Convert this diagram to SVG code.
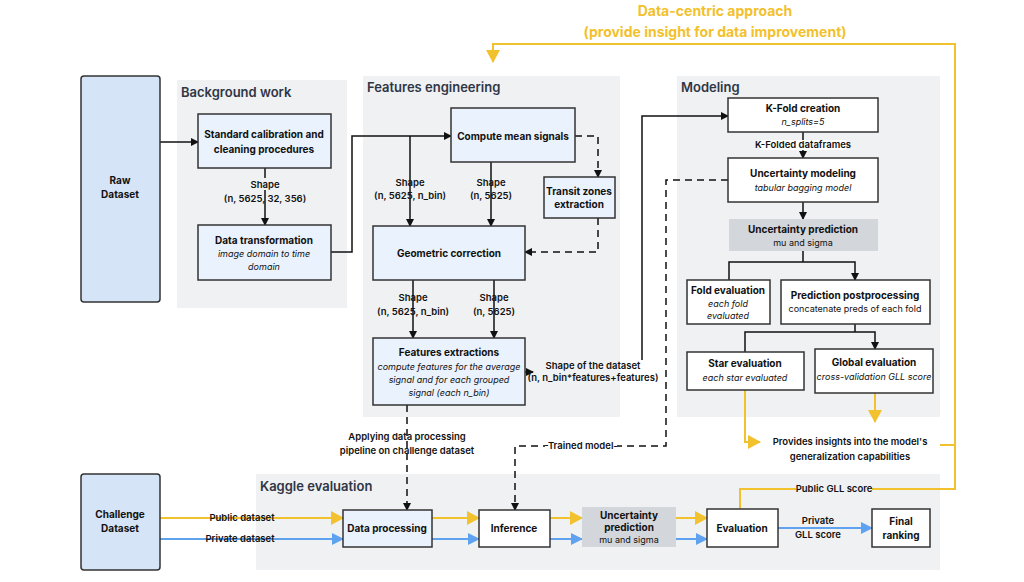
<svg xmlns="http://www.w3.org/2000/svg" width="1024" height="582" viewBox="0 0 1024 582">
<defs>
<marker id="ab" markerWidth="8" markerHeight="8" refX="7" refY="4" orient="auto" markerUnits="userSpaceOnUse"><path d="M0,0 L8,4 L0,8 z" fill="#111"/></marker>
<marker id="ay" markerWidth="14" markerHeight="14" refX="12" refY="7" orient="auto" markerUnits="userSpaceOnUse"><path d="M0,0 L13,7 L0,14 z" fill="#f2c12e"/></marker>
<marker id="al" markerWidth="12" markerHeight="12" refX="11" refY="6" orient="auto" markerUnits="userSpaceOnUse"><path d="M0,0 L12,6 L0,12 z" fill="#5ea2f0"/></marker>
</defs>
<style>
text{font-family:Inter,"Liberation Sans",sans-serif;fill:#111}
.panel{fill:#f0f1f3}
.pt{font-size:13px;font-weight:600;fill:#2f3645}
.nb{fill:#eaf2fd;stroke:#333;stroke-width:1.5}
.nw{fill:#fff;stroke:#333;stroke-width:1.5}
.ng{fill:#d3d6db}
.big{fill:#d6e4f7;stroke:#333;stroke-width:1.5}
.b{font-size:10px;font-weight:700}
.s{font-size:9px;font-style:italic}
.l{font-size:9.5px;font-weight:600}
.c{stroke:#111;stroke-width:1.5;fill:none;marker-end:url(#ab)}
.d{stroke:#111;stroke-width:1.5;fill:none;stroke-dasharray:7,5;marker-end:url(#ab)}
.y{stroke:#f2c12e;stroke-width:2;fill:none}
.bl{stroke:#5ea2f0;stroke-width:2;fill:none}
</style>
<rect class="panel" x="177" y="80" width="170" height="228"/>
<rect class="panel" x="363" y="76" width="257" height="341"/>
<rect class="panel" x="677" y="76" width="263" height="341"/>
<rect class="panel" x="256" y="474" width="684" height="96"/>
<text class="pt" x="181" y="97">Background work</text>
<text class="pt" x="367" y="92">Features engineering</text>
<text class="pt" x="681" y="92">Modeling</text>
<text class="pt" x="260" y="491">Kaggle evaluation</text>
<text x="715" y="16" text-anchor="middle" font-size="14" font-weight="700" style="fill:#f2c12e">Data-centric approach</text>
<text x="715" y="37" text-anchor="middle" font-size="14" font-weight="700" style="fill:#f2c12e">(provide insight for data improvement)</text>

<g id="connectors">
<path class="c" d="M160,142 H198"/>
<path class="c" d="M265,168 V225"/>
<path class="c" d="M331,252 H352 V136 H451"/>
<path class="c" d="M410,136 V226"/>
<path class="c" d="M491,162 V226"/>
<path class="d" d="M575,136 H598 V177"/>
<path class="d" d="M598,218 V252 H525"/>
<path class="c" d="M413,280 V338"/>
<path class="c" d="M494,280 V338"/>
<path class="c" d="M525,372 H533"/>
<path class="c" d="M642,360 V116 H728"/>
<path class="d" d="M407,405 V510"/>
<path class="d" d="M728,180 H666 V446 H515 V510"/>
<path class="c" d="M803,132 V158"/>
<path class="c" d="M803,202 V219"/>
<path class="c" d="M803,251 V262 H729 V280 M803,262 H855 V280"/>
<path class="c" d="M855,324 V332 H745 V352 M855,332 H875 V349"/>
<path class="y" d="M745,390 V442 H760" marker-end="url(#ay)"/>
<path class="y" d="M875,393 V422" marker-end="url(#ay)"/>
<path class="y" d="M940,445 H955 V44 H493 V62" marker-end="url(#ay)"/>
<path class="y" d="M740,509 V489 H955 V445"/>
<path class="y" d="M160,518 H343" marker-end="url(#ay)"/>
<path class="bl" d="M160,539 H343" marker-end="url(#al)"/>
<path class="y" d="M432,518 H479" marker-end="url(#ay)"/>
<path class="bl" d="M432,539 H479" marker-end="url(#al)"/>
<path class="y" d="M550,518 H582" marker-end="url(#ay)"/>
<path class="bl" d="M550,539 H582" marker-end="url(#al)"/>
<path class="y" d="M676,518 H707" marker-end="url(#ay)"/>
<path class="bl" d="M676,539 H707" marker-end="url(#al)"/>
<path class="bl" d="M778,528 H872" marker-end="url(#al)"/>
</g>
<g id="labels">
<rect x="248" y="178" width="36" height="12" class="panel"/>
<text class="l" x="265" y="188" text-anchor="middle">Shape</text>
<text class="l" x="265" y="202" text-anchor="middle">(n, 5625, 32, 356)</text>
<text class="l" x="410" y="186" text-anchor="middle">Shape</text>
<text class="l" x="410" y="199" text-anchor="middle">(n, 5625, n_bin)</text>
<text class="l" x="491" y="186" text-anchor="middle">Shape</text>
<text class="l" x="491" y="199" text-anchor="middle">(n, 5625)</text>
<text class="l" x="413" y="301" text-anchor="middle">Shape</text>
<text class="l" x="413" y="315" text-anchor="middle">(n, 5625, n_bin)</text>
<text class="l" x="494" y="301" text-anchor="middle">Shape</text>
<text class="l" x="494" y="315" text-anchor="middle">(n, 5625)</text>
<text class="l" x="593" y="369" text-anchor="middle" font-size="8.5">Shape of the dataset</text>
<text class="l" x="593" y="381" text-anchor="middle" font-size="8.5">(n, n_bin*features+features)</text>
<text class="l" x="407" y="440" text-anchor="middle">Applying data processing</text>
<text class="l" x="407" y="454" text-anchor="middle">pipeline on challenge dataset</text>
<rect x="545" y="440" width="72" height="12" fill="#fff"/>
<text class="l" x="581" y="449" text-anchor="middle">-Trained model-</text>
<rect x="760" y="140" width="86" height="10" fill="#fff"/>
<text class="l" x="803" y="148" text-anchor="middle" font-size="7.5">K-Folded dataframes</text>
<text class="l" x="850" y="445" text-anchor="middle">Provides insights into the model's</text>
<text class="l" x="850" y="460" text-anchor="middle">generalization capabilities</text>
<rect x="796" y="484" width="76" height="11" fill="#f0f1f3"/>
<text class="l" x="834" y="492" text-anchor="middle" font-size="8.5">Public GLL score</text>
<text class="l" x="242" y="521" text-anchor="middle">Public dataset</text>
<text class="l" x="240" y="542" text-anchor="middle">Private dataset</text>
<text class="l" x="818" y="524" text-anchor="middle" font-size="8.5">Private</text>
<text class="l" x="818" y="538" text-anchor="middle" font-size="8.5">GLL score</text>
</g>

<g id="raw"><rect class="big" x="81" y="76" width="79" height="226" rx="3"/><text class="b" x="120" y="184" text-anchor="middle">Raw</text><text class="b" x="120" y="198" text-anchor="middle">Dataset</text></g>
<g id="std"><rect class="nb" x="198" y="114" width="133" height="54"/><text class="b" x="264" y="138" text-anchor="middle">Standard calibration and</text><text class="b" x="264" y="153" text-anchor="middle">cleaning procedures</text></g>
<g id="dtrans"><rect class="nb" x="198" y="225" width="133" height="55"/><text class="b" x="264" y="244" text-anchor="middle">Data transformation</text><text class="s" x="264" y="257" text-anchor="middle">image domain to time</text><text class="s" x="264" y="270" text-anchor="middle">domain</text></g>
<g id="mean"><rect class="nb" x="451" y="108" width="124" height="54"/><text class="b" x="513" y="140" text-anchor="middle">Compute mean signals</text></g>
<g id="transit"><rect class="nb" x="544" y="177" width="71" height="41"/><text class="b" x="579" y="195" text-anchor="middle" font-size="9">Transit zones</text><text class="b" x="579" y="208" text-anchor="middle" font-size="9">extraction</text></g>
<g id="geo"><rect class="nb" x="373" y="226" width="152" height="54"/><text class="b" x="449" y="257" text-anchor="middle">Geometric correction</text></g>
<g id="feat"><rect class="nb" x="373" y="338" width="152" height="67"/><text class="b" x="449" y="356" text-anchor="middle">Features extractions</text><text class="s" x="449" y="370" text-anchor="middle">compute features for the average</text><text class="s" x="449" y="383" text-anchor="middle">signal and for each grouped</text><text class="s" x="449" y="396" text-anchor="middle">signal (each n_bin)</text></g>
<g id="kfold"><rect class="nw" x="728" y="98" width="150" height="34"/><text class="b" x="803" y="112" text-anchor="middle">K-Fold creation</text><text class="s" x="803" y="125" text-anchor="middle">n_splits=5</text></g>
<g id="umod"><rect class="nw" x="728" y="158" width="150" height="44"/><text class="b" x="803" y="177" text-anchor="middle">Uncertainty modeling</text><text class="s" x="803" y="191" text-anchor="middle">tabular bagging model</text></g>
<g id="upred"><rect class="ng" x="729" y="219" width="149" height="32"/><text class="b" x="803" y="233" text-anchor="middle">Uncertainty prediction</text><text x="803" y="246" text-anchor="middle" font-size="9">mu and sigma</text></g>
<g id="fold"><rect class="nw" x="687" y="280" width="83" height="44"/><text class="b" x="728" y="294" text-anchor="middle">Fold evaluation</text><text class="s" x="728" y="307" text-anchor="middle">each fold</text><text class="s" x="728" y="319" text-anchor="middle">evaluated</text></g>
<g id="post"><rect class="nw" x="781" y="280" width="149" height="44"/><text class="b" x="855" y="299" text-anchor="middle">Prediction postprocessing</text><text x="855" y="312" text-anchor="middle" font-size="9">concatenate preds of each fold</text></g>
<g id="star"><rect class="nw" x="687" y="352" width="117" height="38"/><text class="b" x="745" y="367" text-anchor="middle">Star evaluation</text><text class="s" x="745" y="381" text-anchor="middle">each star evaluated</text></g>
<g id="global"><rect class="nw" x="815" y="349" width="118" height="44"/><text class="b" x="874" y="366" text-anchor="middle">Global evaluation</text><text class="s" x="874" y="380" text-anchor="middle">cross-validation GLL score</text></g>
<g id="chal"><rect class="big" x="81" y="474" width="79" height="96" rx="3"/><text class="b" x="120" y="518" text-anchor="middle">Challenge</text><text class="b" x="120" y="532" text-anchor="middle">Dataset</text></g>
<g id="dproc"><rect class="nb" x="343" y="510" width="89" height="37"/><text class="b" x="387" y="532" text-anchor="middle">Data processing</text></g>
<g id="inf"><rect class="nw" x="479" y="510" width="71" height="37"/><text class="b" x="514" y="532" text-anchor="middle">Inference</text></g>
<g id="upred2"><rect class="ng" x="582" y="507" width="94" height="40"/><text class="b" x="629" y="519" text-anchor="middle" font-size="9">Uncertainty</text><text class="b" x="629" y="531" text-anchor="middle" font-size="9">prediction</text><text x="629" y="543" text-anchor="middle" font-size="9">mu and sigma</text></g>
<g id="eval"><rect class="nw" x="707" y="509" width="71" height="38"/><text class="b" x="742" y="532" text-anchor="middle">Evaluation</text></g>
<g id="final"><rect class="nw" x="872" y="509" width="58" height="38"/><text class="b" x="901" y="525" text-anchor="middle">Final</text><text class="b" x="901" y="539" text-anchor="middle">ranking</text></g>
</svg>
